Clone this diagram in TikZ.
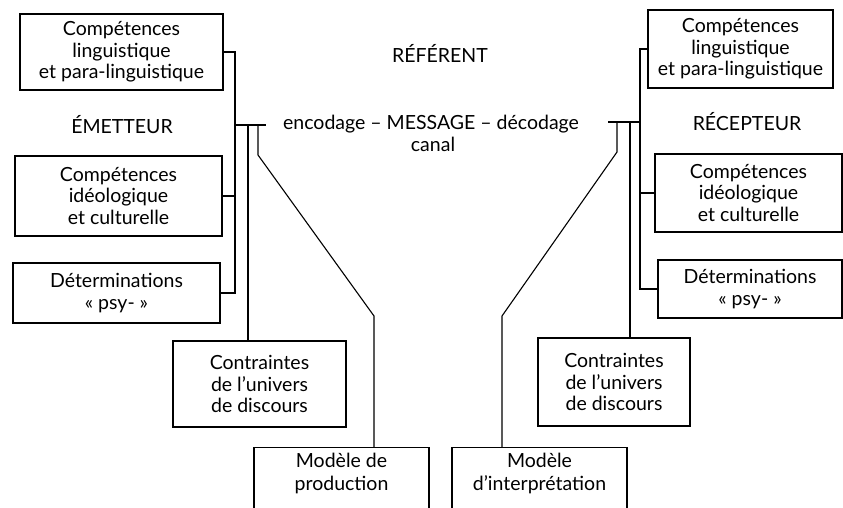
\documentclass[tikz,border=0pt]{standalone}
\usepackage{fontspec}
\setmainfont{Lato}
\begin{document}
\begin{tikzpicture}[x=1pt,y=-1pt,
  box/.style={draw,line width=1.2pt,rectangle,inner sep=0pt,align=center,font=\fontsize{19.5}{21.5}\selectfont},
  lbl/.style={inner sep=0pt,align=center,font=\fontsize{19.5}{22.5}\selectfont},
  conn/.style={line width=1.1pt}]
\useasboundingbox (0,0) rectangle (843,508);
\clip (0,0) rectangle (843,508);
\fill[white] (0,0) rectangle (843,508);
% left boxes
\node[box,minimum width=203pt,minimum height=76pt] (L1) at (121.5,52) {Compétences\\linguistique\\et para-linguistique};
\node[box,minimum width=207pt,minimum height=80pt] (L2) at (118.5,196) {Compétences\\idéologique\\et culturelle};
\node[box,minimum width=207pt,minimum height=60pt] (L3) at (116.5,293) {Déterminations\\« psy- »};
\node[box,minimum width=173pt,minimum height=86pt] (LC) at (259.5,384) {Contraintes\\de l’univers\\de discours};
\node[box,minimum width=175pt,minimum height=100pt,anchor=north,
  label={[lbl,anchor=north,yshift=-6pt]north:Modèle de\\production}] (LM) at (341.5,447) {};
% right boxes
\node[box,minimum width=185pt,minimum height=78pt] (R1) at (740.5,49) {Compétences\\linguistique\\et para-linguistique};
\node[box,minimum width=187pt,minimum height=78pt] (R2) at (748.5,193) {Compétences\\idéologique\\et culturelle};
\node[box,minimum width=184pt,minimum height=58pt] (R3) at (750,289) {Déterminations\\« psy- »};
\node[box,minimum width=152pt,minimum height=88pt] (RC) at (614,382) {Contraintes\\de l’univers\\de discours};
\node[box,minimum width=175pt,minimum height=100pt,anchor=north,
  label={[lbl,anchor=north,yshift=-6pt]north:Modèle\\d’interprétation}] (RM) at (539.5,447) {};
% texts
\node[lbl] (emet) at (122,125) {ÉMETTEUR};
\node[lbl] (recep) at (747,122) {RÉCEPTEUR};
\node[lbl] (ref) at (440,53) {RÉFÉRENT};
\node[lbl] (msg) at (431,124) {encodage – MESSAGE – décodage};
\node[lbl] (canal) at (433,144) {canal};
% left connectors
\coordinate (lt) at (235,125);
\coordinate (le) at (266,125);
\coordinate (la) at (248,125);
\coordinate (lb) at (258,125);
\coordinate (lb1) at (258,155);
\coordinate (lb2) at (374,316);
\draw[conn] (L1.east) -- (L1.east -| lt) |- (L3.east);
\draw[conn] (L2.east) -- (L2.east -| lt);
\draw[conn] (lt) -- (le);
\draw[conn] (la) -- (la |- LC.north);
\draw[conn] (lb) -- (lb1) -- (lb2) -- (lb2 |- LM.north);
% right connectors
\coordinate (rt) at (640,122);
\coordinate (re) at (608,122);
\coordinate (ra) at (630,122);
\coordinate (rb) at (617,122);
\coordinate (rb1) at (617,152);
\coordinate (rb2) at (502,316);
\draw[conn] (R1.west) -- (R1.west -| rt) |- (R3.west);
\draw[conn] (R2.west) -- (R2.west -| rt);
\draw[conn] (rt) -- (re);
\draw[conn] (ra) -- (ra |- RC.north);
\draw[conn] (rb) -- (rb1) -- (rb2) -- (rb2 |- RM.north);
\end{tikzpicture}
\end{document}
